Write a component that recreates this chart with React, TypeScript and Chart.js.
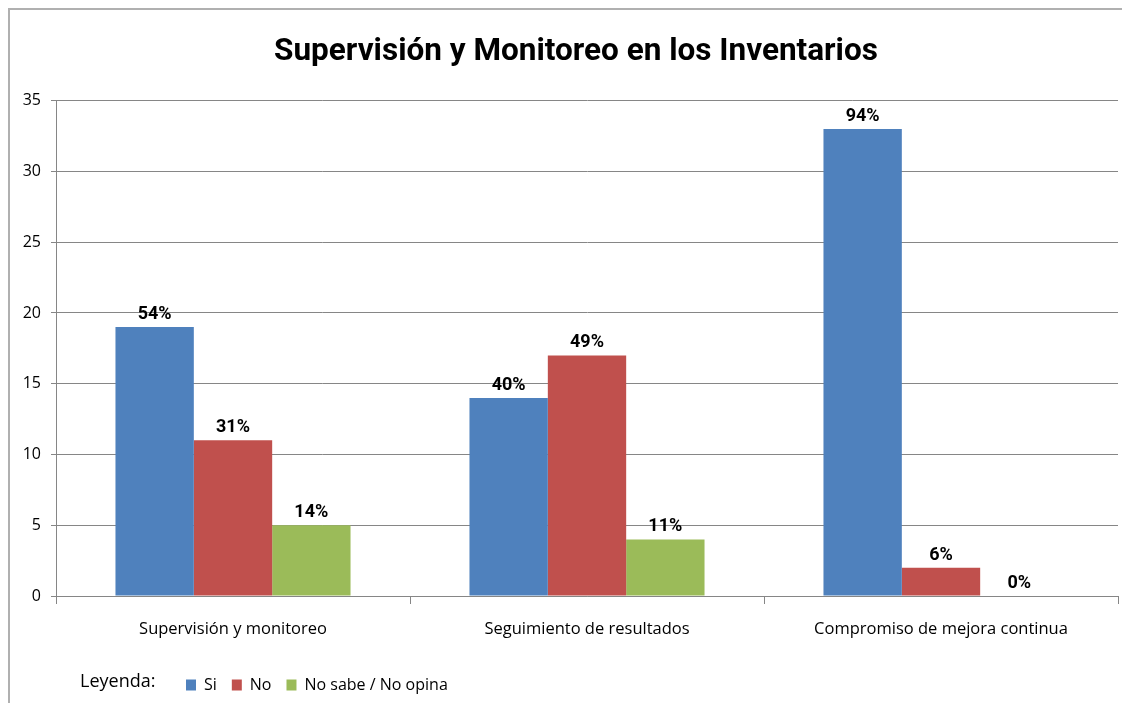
import React, { useEffect, useRef } from "react";
import { Chart, registerables } from "chart.js";

Chart.register(...registerables);

const categories = ["Supervisión y monitoreo", "Seguimiento de resultados", "Compromiso de mejora continua"];
const seriesNames = ["Si", "No", "No sabe / No opina"];
const siValues = [19, 14, 33];
const noValues = [11, 17, 2];
const nsValues = [5, 4, 0];
const siLabels = ["54%", "40%", "94%"];
const noLabels = ["31%", "49%", "6%"];
const nsLabels = ["14%", "11%", "0%"];
const yTicks = [0, 5, 10, 15, 20, 25, 30, 35];

const TITLE_FONT = "Roboto, 'Open Sans', sans-serif";
const TICK_FONT = "'Open Sans', sans-serif";

export default function App() {
  const ref = useRef<HTMLCanvasElement | null>(null);

  useEffect(() => {
    if (!ref.current) return;
    const pctLabels = [siLabels, noLabels, nsLabels];

    const dataLabelPlugin = {
      id: "dataLabels",
      afterDatasetsDraw(chart: any) {
        const ctx = chart.ctx;
        ctx.save();
        ctx.font = `bold 18px ${TITLE_FONT}`;
        ctx.fillStyle = "#000";
        ctx.textAlign = "center";
        ctx.textBaseline = "alphabetic";
        chart.data.datasets.forEach((ds: any, di: number) => {
          const meta = chart.getDatasetMeta(di);
          meta.data.forEach((bar: any, i: number) => {
            ctx.fillText(pctLabels[di][i], bar.x, bar.y - 8);
          });
        });
        ctx.restore();
      },
    };

    const layoutTweakPlugin = {
      id: "layoutTweak",
      afterLayout(chart: any) {
        if (chart.legend) {
          chart.legend.left = 161;
        }
        if (chart.titleBlock) {
          chart.titleBlock.left += 12;
          chart.titleBlock.right += 12;
        }
      },
      afterDraw(chart: any) {
        const lg = chart.legend;
        if (!lg) return;
        const ctx = chart.ctx;
        ctx.save();
        ctx.font = `18px ${TICK_FONT}`;
        ctx.fillStyle = "#000";
        ctx.textAlign = "left";
        ctx.textBaseline = "middle";
        ctx.fillText("Leyenda:", 70, 672);
        ctx.restore();
      },
    };

    const chart = new Chart(ref.current, {
      type: "bar",
      data: {
        labels: categories,
        datasets: [
          { label: seriesNames[0], data: siValues, backgroundColor: "#4F81BD" },
          { label: seriesNames[1], data: noValues, backgroundColor: "#C0504D" },
          { label: seriesNames[2], data: nsValues, backgroundColor: "#9BBB59" },
        ],
      },
      options: {
        animation: false,
        responsive: false,
        maintainAspectRatio: false,
        layout: { padding: { left: 0, right: 12, top: 0, bottom: 0 } },
        datasets: { bar: { barPercentage: 1, categoryPercentage: 0.664 } },
        plugins: {
          title: {
            display: true,
            text: "Supervisión y Monitoreo en los Inventarios",
            color: "#000",
            font: { family: TITLE_FONT, size: 31.5, weight: "bold" },
            padding: { top: 23, bottom: 29.9 },
          },
          legend: {
            position: "bottom",
            align: "start",
            labels: {
              boxWidth: 10,
              boxHeight: 11,
              color: "#000",
              font: { family: TICK_FONT, size: 16 },
              padding: 15,
            },
          },
          tooltip: { enabled: false },
        },
        scales: {
          x: {
            grid: { drawOnChartArea: false, drawTicks: true, tickLength: 8, color: "#868686", offset: true },
            border: { color: "#868686", width: 1 },
            ticks: { color: "#000", font: { family: TICK_FONT, size: 16.5 }, padding: 15 },
            afterFit(scale: any) {
              scale.height = 66;
            },
          },
          y: {
            min: 0,
            max: 35,
            afterBuildTicks(scale: any) {
              scale.ticks = yTicks.map((v) => ({ value: v }));
            },
            grid: { color: "#868686", tickLength: 5 },
            border: { color: "#868686", width: 1 },
            ticks: { color: "#000", font: { family: TICK_FONT, size: 16 }, padding: 10 },
            afterFit(scale: any) {
              scale.width = 46;
            },
          },
        },
      },
      plugins: [dataLabelPlugin, layoutTweakPlugin],
    });
    return () => chart.destroy();
  }, []);

  return (
    <div
      style={{
        width: 1120,
        height: 693,
        borderTop: "2px solid #b0b0b0",
        borderLeft: "2px solid #b0b0b0",
        background: "#fff",
      }}
    >
      <canvas ref={ref} width={1120} height={693} style={{ display: "block" }} />
    </div>
  );
}
